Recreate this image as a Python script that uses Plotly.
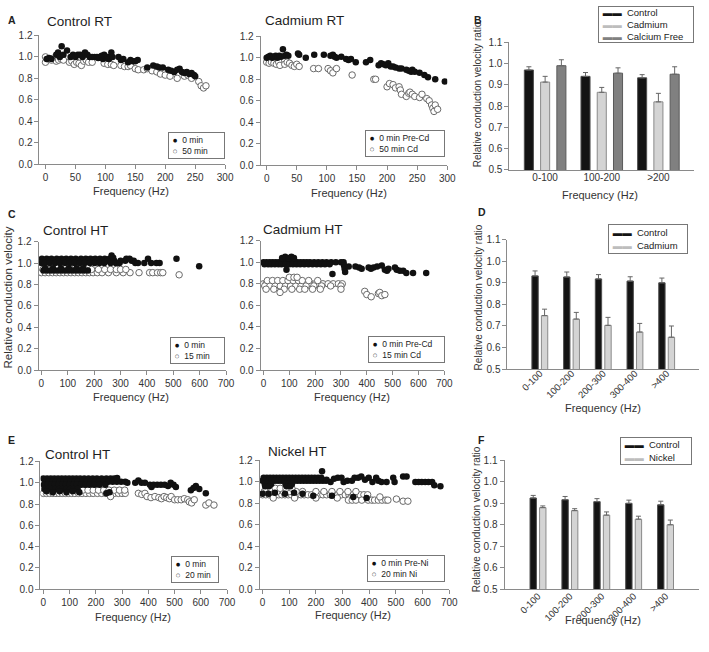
import plotly.graph_objects as go

FONT = 'Liberation Sans, Arial, sans-serif'
W, H = 709, 652

# ---------------- data ----------------
# A: Control RT
a_ctrl_pre_x = [2, 6, 10, 18, 21, 24, 27, 30, 36, 42, 46, 50, 54, 58, 62, 66, 70, 74, 78, 82, 86, 88, 90, 94, 96,
                98, 100, 102, 104, 106, 110, 112, 122, 126, 130, 138, 142, 146, 150, 154, 170, 180, 186, 190, 196,
                205, 210, 215, 220, 224, 228, 232, 236, 240, 244, 248, 250]
a_ctrl_pre_y = [0.98, 0.99, 0.98, 1.02, 1.04, 1.0, 1.1, 1.02, 1.06, 1.0, 1.02, 1.0, 1.02, 1.02, 1.0, 1.04, 1.02, 1.0,
                1.0, 1.0, 1.0, 0.99, 1.0, 1.01, 0.98, 1.02, 1.0, 0.99, 1.0, 0.98, 1.04, 1.0, 1.0, 0.97, 0.98, 0.95,
                0.97, 0.96, 0.96, 0.97, 0.9, 0.92, 0.91, 0.9, 0.9, 0.88, 0.87, 0.86, 0.88, 0.89, 0.86, 0.85, 0.86,
                0.84, 0.85, 0.83, 0.82]
a_ctrl_post_x = [0, 0, 5, 10, 14, 18, 22, 26, 30, 40, 44, 48, 52, 56, 60, 64, 68, 72, 78, 98, 104, 110, 114, 126, 132,
                 138, 142, 150, 155, 164, 170, 178, 186, 192, 200, 208, 220, 232, 238, 244, 256, 260, 264, 268]
a_ctrl_post_y = [1.0, 0.95, 0.98, 0.97, 0.99, 0.96, 0.97, 0.98, 0.97, 0.95, 0.96, 0.93, 0.95, 0.94, 0.92, 0.96, 0.97,
                 0.95, 0.95, 0.94, 0.93, 0.93, 0.92, 0.92, 0.91, 0.91, 0.92, 0.89, 0.88, 0.88, 0.89, 0.87, 0.86, 0.84,
                 0.83, 0.82, 0.80, 0.82, 0.83, 0.80, 0.77, 0.73, 0.71, 0.73]

# A: Cadmium RT
a_cd_pre_x = [0, 3, 6, 9, 12, 15, 18, 21, 24, 27, 30, 33, 36, 52, 54, 65, 79, 95, 106, 110, 113, 116, 124, 132, 136,
              140, 148, 165, 172, 186, 190, 194, 198, 202, 206, 210, 214, 220, 224, 232, 236, 240, 242, 246, 254,
              262, 268, 280, 296]
a_cd_pre_y = [1.0, 1.01, 1.02, 1.0, 1.01, 1.02, 1.0, 1.02, 1.01, 1.08, 1.02, 1.03, 1.02, 1.04, 1.03, 1.0, 1.03, 1.03,
              1.02, 1.03, 1.01, 1.0, 1.01, 0.99, 0.98, 0.99, 0.96, 0.96, 0.98, 0.93, 0.95, 0.94, 0.93, 0.95, 0.92,
              0.92, 0.91, 0.90, 0.90, 0.89, 0.88, 0.87, 0.89, 0.87, 0.86, 0.84, 0.82, 0.80, 0.78]
a_cd_post_x = [0, 4, 8, 12, 16, 20, 22, 30, 34, 38, 42, 46, 50, 54, 78, 86, 102, 106, 110, 116, 142, 178, 181, 200,
               204, 210, 214, 220, 222, 224, 232, 236, 238, 242, 246, 254, 258, 266, 270, 274, 276, 278, 280, 284]
a_cd_post_y = [0.96, 0.95, 0.96, 0.95, 0.94, 0.96, 0.93, 0.94, 0.96, 0.95, 0.93, 0.92, 0.94, 0.92, 0.9, 0.9, 0.9,
               0.88, 0.86, 0.9, 0.84, 0.8, 0.8, 0.73, 0.76, 0.75, 0.72, 0.73, 0.7, 0.66, 0.64, 0.67, 0.68, 0.66,
               0.64, 0.63, 0.66, 0.62, 0.6, 0.56, 0.53, 0.5, 0.56, 0.52]

# C: Control HT (15 min)
c_ctrl_pre_x = [2, 20, 38, 58, 76, 94, 112, 130, 150, 168, 186, 204, 222, 240, 258,
                10, 28, 48, 66, 84, 104, 122, 140, 158, 178, 196, 214, 232, 250, 276, 300, 318, 342, 350,
                0, 14, 32, 52, 70, 90, 108, 126, 146, 164, 184, 202, 220, 238, 262, 282, 296, 356, 366, 390, 416,
                436, 448,
                8, 22, 36, 50, 64, 78, 92, 106, 120, 134, 148, 162, 176, 14, 44, 74, 104, 134, 158,
                266, 272, 322, 334, 404, 512, 598]
c_ctrl_pre_y = [1.04, 1.04, 1.04, 1.04, 1.04, 1.04, 1.04, 1.04, 1.04, 1.04, 1.04, 1.04, 1.04, 1.04, 1.04,
                1.02, 1.02, 1.02, 1.02, 1.02, 1.02, 1.02, 1.02, 1.02, 1.02, 1.02, 1.02, 1.02, 1.02, 1.02, 1.02, 1.02,
                1.02, 1.02,
                1.0, 1.0, 1.0, 1.0, 1.0, 1.0, 1.0, 1.0, 1.0, 1.0, 1.0, 1.0, 1.0, 1.0, 1.0, 1.0, 1.0, 1.0, 1.0, 1.0,
                1.0, 1.0, 1.0,
                0.93, 0.93, 0.93, 0.93, 0.93, 0.93, 0.93, 0.93, 0.93, 0.93, 0.93, 0.93, 0.93, 0.95, 0.95, 0.95,
                0.95, 0.95, 0.95,
                1.07, 1.05, 1.04, 1.04, 1.04, 1.04, 0.97]
c_ctrl_post_x = [0, 14, 28, 42, 56, 70, 84, 98, 112, 126, 140, 154, 168, 182, 196, 212, 230, 254, 284, 310, 336, 370,
                 410, 422, 440, 452, 460,
                 6, 24, 46, 68, 92, 116, 140, 164, 190, 216, 240, 262, 284, 300, 320,
                 60, 90, 110, 130, 150, 522]
c_ctrl_post_y = [0.91, 0.91, 0.91, 0.91, 0.91, 0.91, 0.91, 0.91, 0.91, 0.91, 0.91, 0.91, 0.91, 0.91, 0.91, 0.91,
                 0.91, 0.91, 0.91, 0.91, 0.91, 0.91, 0.91, 0.91, 0.91, 0.91, 0.91,
                 0.94, 0.94, 0.94, 0.94, 0.94, 0.94, 0.94, 0.94, 0.94, 0.94, 0.94, 0.94, 0.94, 0.94, 0.94,
                 0.97, 0.97, 0.97, 0.97, 0.97, 0.89]

# C: Cadmium HT (15 min)
c_cd_pre_x = [0, 12, 24, 36, 48, 60, 72, 84, 96, 108, 120, 132, 144, 156, 168, 180, 196, 212, 228, 244, 262, 280, 300,
              4, 18, 30, 44, 58, 70, 86, 100, 114, 128, 142, 158, 174, 190, 206, 222, 238, 256,
              72, 84, 96, 108, 118,
              89, 267, 310, 312, 314, 316, 330, 356, 370, 380, 407, 416, 426, 440, 458, 470, 478, 484, 509, 516,
              528, 541, 553, 579, 630]
c_cd_pre_y = [1.0, 1.0, 1.0, 1.0, 1.0, 1.0, 1.0, 1.0, 1.0, 1.0, 1.0, 1.0, 1.0, 1.0, 1.0, 1.0, 1.0, 1.0, 1.0, 1.0, 1.0,
              1.0, 1.0,
              0.98, 0.98, 0.98, 0.98, 0.98, 0.98, 0.98, 0.98, 0.98, 0.98, 0.98, 0.98, 0.98, 0.98, 0.98, 0.98, 0.98,
              0.98,
              1.04, 1.05, 1.04, 1.05, 1.04,
              0.93, 0.89, 1.0, 0.97, 0.94, 0.91, 0.96, 0.96, 0.95, 0.94, 0.95, 0.94, 0.95, 0.96, 0.97, 0.93, 0.92,
              0.94, 0.95, 0.93, 0.92, 0.92, 0.9, 0.9, 0.9]
c_cd_post_x = [0, 10, 20, 30, 40, 50, 60, 70, 80, 90, 100, 110, 120, 130, 140, 150, 160, 170, 185, 200, 215, 230, 250,
               270, 290, 305,
               5, 25, 45, 65, 85, 105, 125, 145, 165, 195, 225, 260, 300,
               15, 35, 55, 75, 95, 115, 135, 150, 175, 210,
               100, 118, 130,
               10, 40, 80, 110, 140, 160, 190, 220, 300,
               64, 392, 400, 417, 445, 450, 458, 470]
c_cd_post_y = [0.8, 0.8, 0.8, 0.8, 0.8, 0.8, 0.8, 0.8, 0.8, 0.8, 0.8, 0.8, 0.8, 0.8, 0.8, 0.8, 0.8, 0.8, 0.8, 0.8,
               0.8, 0.8, 0.8, 0.8, 0.8, 0.8,
               0.78, 0.78, 0.78, 0.78, 0.78, 0.78, 0.78, 0.78, 0.78, 0.78, 0.78, 0.78, 0.78,
               0.83, 0.83, 0.83, 0.83, 0.83, 0.83, 0.83, 0.83, 0.83, 0.83,
               0.86, 0.86, 0.86,
               0.75, 0.75, 0.75, 0.75, 0.75, 0.75, 0.75, 0.75, 0.75,
               0.72, 0.73, 0.7, 0.68, 0.71, 0.72, 0.69, 0.7]

# E: Control HT (20 min)
e_ctrl_pre_x = [0, 14, 28, 42, 56, 70, 84, 98, 112, 126, 140, 156, 172, 188, 204, 222, 240, 256, 270,
                6, 20, 34, 48, 62, 76, 90, 104, 118, 132, 148, 164, 180, 196, 212, 230, 248, 264, 280, 296, 312,
                2, 16, 30, 44, 58, 72, 86, 100, 114, 128, 144, 160, 176, 194, 214, 236,
                4, 18, 32, 46, 60, 74, 88, 102, 116, 130,
                12, 36, 62, 88, 112, 137, 240, 252,
                281, 320, 350, 362, 374, 387, 406, 412, 420, 434, 448, 462, 475, 485, 496, 505, 562, 572, 581,
                594, 619]
e_ctrl_pre_y = [1.04, 1.04, 1.04, 1.04, 1.04, 1.04, 1.04, 1.04, 1.04, 1.04, 1.04, 1.04, 1.04, 1.04, 1.04, 1.04, 1.04,
                1.04, 1.04,
                1.01, 1.01, 1.01, 1.01, 1.01, 1.01, 1.01, 1.01, 1.01, 1.01, 1.01, 1.01, 1.01, 1.01, 1.01, 1.01, 1.01,
                1.01, 1.01, 1.01, 1.01,
                0.98, 0.98, 0.98, 0.98, 0.98, 0.98, 0.98, 0.98, 0.98, 0.98, 0.98, 0.98, 0.98, 0.98, 0.98, 0.98,
                0.94, 0.94, 0.94, 0.94, 0.94, 0.94, 0.94, 0.94, 0.94, 0.94,
                0.92, 0.91, 0.92, 0.91, 0.92, 0.91, 0.9, 0.91,
                1.045, 1.0, 1.0, 1.02, 1.0, 1.0, 0.98, 0.96, 0.98, 0.98, 0.98, 0.98, 0.97, 1.0, 0.98, 0.96, 0.93,
                0.95, 0.97, 0.94, 0.9]
e_ctrl_post_x = [0, 12, 24, 36, 48, 60, 72, 84, 96, 108, 120, 134, 148, 162, 176, 190, 206, 222, 238, 254, 270, 286,
                 300, 312,
                 90, 110, 130, 150, 170, 190, 210, 230, 250, 270, 290, 310,
                 256, 362, 375, 387, 395, 410, 425, 440, 450, 460, 470, 480, 487, 500, 512, 525, 537, 550, 556, 565,
                 575, 619, 631, 650]
e_ctrl_post_y = [0.9, 0.9, 0.9, 0.9, 0.9, 0.9, 0.9, 0.9, 0.9, 0.9, 0.9, 0.9, 0.9, 0.9, 0.9, 0.9, 0.9, 0.9, 0.9, 0.9,
                 0.9, 0.9, 0.9, 0.9,
                 0.93, 0.93, 0.93, 0.93, 0.93, 0.93, 0.93, 0.93, 0.93, 0.93, 0.93, 0.93,
                 0.87, 0.9, 0.89, 0.9, 0.87, 0.86, 0.87, 0.86, 0.85, 0.87, 0.86, 0.85, 0.87, 0.84, 0.84, 0.84, 0.85,
                 0.84, 0.82, 0.81, 0.84, 0.79, 0.81, 0.79]

# E: Nickel HT (20 min)
e_ni_pre_x = [4, 16, 28, 40, 52, 64, 76, 88, 100, 112, 124, 136, 148, 160, 172, 184, 196, 208, 220,
              0, 10, 22, 34, 46, 58, 70, 82, 94, 106, 118, 130, 142, 154, 166, 178, 190, 202, 214, 226, 238,
              8, 20, 32, 86, 98, 110, 10, 24, 90, 104,
              0, 22, 46, 84, 118, 150,
              190, 260, 340, 390,
              223, 240, 255, 268, 282, 296, 304, 318, 335, 345, 358, 370, 384, 398, 412, 426, 434, 446, 465, 490,
              495, 527, 540, 573, 585, 597, 610, 622, 636, 644, 667]
e_ni_pre_y = [1.04, 1.04, 1.04, 1.04, 1.04, 1.04, 1.04, 1.04, 1.04, 1.04, 1.04, 1.04, 1.04, 1.04, 1.04, 1.04, 1.04,
              1.04, 1.04,
              1.01, 1.01, 1.01, 1.01, 1.01, 1.01, 1.01, 1.01, 1.01, 1.01, 1.01, 1.01, 1.01, 1.01, 1.01, 1.01, 1.01,
              1.01, 1.01, 1.01, 1.01,
              0.98, 0.98, 0.98, 0.98, 0.98, 0.98, 0.96, 0.96, 0.96, 0.96,
              0.89, 0.89, 0.9, 0.89, 0.9, 0.89,
              0.87, 0.87, 0.86, 0.85,
              1.1, 1.02, 1.0, 1.03, 1.04, 1.04, 1.0, 1.01, 1.01, 1.04, 1.04, 1.05, 1.02, 1.04, 1.0, 1.04, 1.01,
              1.0, 1.0, 1.04, 1.0, 1.05, 1.05, 1.0, 1.0, 1.0, 1.0, 1.0, 1.0, 0.97, 0.96]
e_ni_post_x = [0, 12, 24, 36, 48, 60, 72, 84, 96, 108, 120, 132, 144, 156, 170, 184, 198, 212, 226, 240, 254, 268,
               282, 296, 310, 324, 338, 352, 366, 380, 394,
               6, 30, 54, 78, 102, 126, 150, 200, 230, 260, 290, 320, 350,
               12, 30, 48, 66, 88, 110,
               40, 120, 200, 280, 330,
               322, 336, 350, 372, 396, 410, 420, 434, 448, 462, 470,
               440, 502, 527, 545]
e_ni_post_y = [0.88, 0.88, 0.88, 0.88, 0.88, 0.88, 0.88, 0.88, 0.88, 0.88, 0.88, 0.88, 0.88, 0.88, 0.88, 0.88, 0.88,
               0.88, 0.88, 0.88, 0.88, 0.88, 0.88, 0.88, 0.88, 0.88, 0.88, 0.88, 0.88, 0.88, 0.88,
               0.91, 0.91, 0.91, 0.91, 0.91, 0.91, 0.91, 0.91, 0.91, 0.91, 0.91, 0.91, 0.91,
               0.94, 0.94, 0.94, 0.94, 0.94, 0.94,
               0.85, 0.85, 0.85, 0.85, 0.85,
               0.83, 0.83, 0.83, 0.83, 0.83, 0.83, 0.83, 0.83, 0.83, 0.83, 0.83,
               0.86, 0.84, 0.82, 0.82]

# B: bar summary, RT
b_cats = ['0-100', '100-200', '>200']
b_control = [0.97, 0.94, 0.933]
b_control_err = [0.015, 0.018, 0.015]
b_cadmium = [0.913, 0.865, 0.82]
b_cadmium_err = [0.027, 0.023, 0.04]
b_cafree = [0.99, 0.955, 0.95]
b_cafree_err = [0.028, 0.025, 0.035]

# D: bar summary, HT cadmium
d_cats = ['0-100', '100-200', '200-300', '300-400', '>400']
d_control = [0.932, 0.927, 0.918, 0.908, 0.9]
d_control_err = [0.023, 0.023, 0.02, 0.02, 0.022]
d_cadmium = [0.748, 0.732, 0.703, 0.672, 0.648]
d_cadmium_err = [0.03, 0.031, 0.037, 0.04, 0.052]

# F: bar summary, HT nickel
f_cats = ['0-100', '100-200', '200-300', '300-400', '>400']
f_control = [0.925, 0.917, 0.908, 0.9, 0.893]
f_control_err = [0.012, 0.015, 0.014, 0.015, 0.017]
f_nickel = [0.88, 0.866, 0.845, 0.826, 0.8]
f_nickel_err = [0.008, 0.009, 0.015, 0.014, 0.022]


# ---------------- helpers ----------------
def px(x):
    return x / W


def py(y):
    return 1 - y / H


axis_style = dict(showline=True, linecolor='#8a8a8a', linewidth=1, ticks='outside', ticklen=4, tickcolor='#8a8a8a',
                  showgrid=False, zeroline=False, tickfont=dict(family=FONT, size=10, color='#333'))

fig = go.Figure()
layout = {}
annotations = []
NB = '\u00a0'


def add_axes(n, box, xr, yr, **xextra):
    # box = (left, top, right, bottom) in pixels
    left, top, right, bottom = box
    sx = '' if n == 1 else str(n)
    layout['xaxis' + sx] = dict(axis_style, domain=[px(left), px(right)], range=xr, anchor='y' + sx, **xextra)
    layout['yaxis' + sx] = dict(axis_style, domain=[py(bottom), py(top)], range=yr, anchor='x' + sx)
    return 'x' + sx, 'y' + sx


def text(x, y, s, size=11, bold=False, angle=0, anchor='center', color='#222'):
    annotations.append(dict(x=px(x), y=py(y), xref='paper', yref='paper', text='<b>' + s + '</b>' if bold else s,
                            showarrow=False, textangle=angle, xanchor=anchor, yanchor='middle',
                            font=dict(family=FONT, size=size, color=color)))


# legend drawn as a bordered text box: (symbol html, label) rows
def legend_box(box, rows, size):
    left, top, right, bottom = box
    lines = [NB + sym + NB + NB + label for sym, label in rows]
    annotations.append(dict(x=px(left), y=py(top), xref='paper', yref='paper', xanchor='left', yanchor='top',
                            text='<br>'.join(lines), align='left', valign='middle', showarrow=False,
                            width=right - left - 4, height=bottom - top - 4, borderpad=1, borderwidth=1,
                            bordercolor='#777', bgcolor='white', font=dict(family=FONT, size=size, color='#222')))


FILLED = '<span style="color:#111">●</span>'
OPEN = '<span style="color:#555">○</span>'


def scatter_panel(n, box, xmax, dtick, pre, post, names, legbox):
    xa, ya = add_axes(n, box, [-11 if xmax > 300 else -10, xmax], [0, 1.2], dtick=dtick)
    layout['yaxis' + ('' if n == 1 else str(n))].update(dtick=0.2, tickformat='.1f')
    # open circles first so the filled ones stay visible where they overlap
    fig.add_trace(go.Scatter(x=post[0], y=post[1], mode='markers', name=names[1], xaxis=xa, yaxis=ya,
                             marker=dict(size=6.5, color='white', line=dict(width=1, color='#6a6a6a'))))
    fig.add_trace(go.Scatter(x=pre[0], y=pre[1], mode='markers', name=names[0], xaxis=xa, yaxis=ya,
                             marker=dict(size=6.5, color='#111', line=dict(width=0))))
    legend_box(legbox, [(FILLED, names[0]), (OPEN, names[1])], 8.5)


bar_styles = {
    'Control': ('#141414', '#505050'),
    'Cadmium': ('#d4d4d4', '#8a8a8a'),
    'Nickel': ('#d4d4d4', '#8a8a8a'),
    'Calcium Free': ('#808080', '#5a5a5a'),
}


def bar_panel(n, box, cats, xr, series, width, offsets, legbox, angle=0, standoff=0):
    xa, ya = add_axes(n, box, xr, [0.5, 1.1], type='category', tickangle=angle)
    sx = '' if n == 1 else str(n)
    layout['xaxis' + sx].update(ticks='', ticklabelstandoff=standoff,
                                tickfont=dict(family=FONT, size=10 if angle == 0 else 9.5, color='#333'))
    layout['yaxis' + sx].update(dtick=0.1, tickformat='.1f')
    rows = []
    for (name, vals, errs), off in zip(series, offsets):
        fill, edge = bar_styles[name]
        fig.add_trace(go.Bar(x=cats, y=vals, name=name, xaxis=xa, yaxis=ya, width=width, offset=off,
                             marker=dict(color=fill, line=dict(color=edge, width=1)),
                             error_y=dict(type='data', symmetric=False, array=errs, arrayminus=[0] * len(errs),
                                          color='#666', thickness=1, width=2.5)))
        swatch = '#bdbdbd' if fill == '#d4d4d4' else fill
        rows.append(('<span style="color:%s">▬▬</span>' % swatch, name))
    legend_box(legbox, rows, 9.5)


# ---------------- panels ----------------
scatter_panel(1, (40, 30, 228, 161), 300, 50, (a_ctrl_pre_x, a_ctrl_pre_y), (a_ctrl_post_x, a_ctrl_post_y),
              ['0 min', '50 min'], (170, 128, 227, 155))
scatter_panel(2, (264, 31, 453, 162), 300, 50, (a_cd_pre_x, a_cd_pre_y), (a_cd_post_x, a_cd_post_y),
              ['0 min Pre-Cd', '50 min Cd'], (370, 126, 450, 153))
bar_panel(3, (516, 37, 703, 167), b_cats, [-0.63, 2.63],
          [('Control', b_control, b_control_err), ('Cadmium', b_cadmium, b_cadmium_err),
           ('Calcium Free', b_cafree, b_cafree_err)], 0.16, [-0.367, -0.08, 0.207], (606, 0, 702, 37),
          standoff=-2)

scatter_panel(4, (39, 240, 229, 371), 700, 100, (c_ctrl_pre_x, c_ctrl_pre_y), (c_ctrl_post_x, c_ctrl_post_y),
              ['0 min', '15 min'], (172, 337, 227, 364))
scatter_panel(5, (264, 239, 450, 371), 700, 100, (c_cd_pre_x, c_cd_pre_y), (c_cd_post_x, c_cd_post_y),
              ['0 min Pre-Cd', '15 min Cd'], (373, 336, 450, 363))
bar_panel(6, (514, 238, 708, 370), d_cats, [-1.02, 5.02],
          [('Control', d_control, d_control_err), ('Cadmium', d_cadmium, d_cadmium_err)],
          0.2, [-0.25, 0.05], (616, 222, 696, 252), angle=-45, standoff=-6)

scatter_panel(7, (41, 464, 230, 594), 700, 100, (e_ctrl_pre_x, e_ctrl_pre_y), (e_ctrl_post_x, e_ctrl_post_y),
              ['0 min', '20 min'], (173, 560, 221, 587))
scatter_panel(8, (263, 463, 455, 594), 700, 100, (e_ni_pre_x, e_ni_pre_y), (e_ni_post_x, e_ni_post_y),
              ['0 min Pre-Ni', '20 min Ni'], (372, 559, 450, 586))
bar_panel(9, (511, 463, 708, 594), f_cats, [-1.05, 5.05],
          [('Control', f_control, f_control_err), ('Nickel', f_nickel, f_nickel_err)],
          0.2, [-0.25, 0.05], (628, 439, 700, 467), angle=-45, standoff=-3)

# ---------------- labels ----------------
for letter, x, y in [('A', 12, 14), ('B', 484, 14), ('C', 12, 212), ('D', 488, 210), ('E', 12, 442), ('F', 488, 442)]:
    text(x, y, letter, size=10.5, bold=True)

for title, x, y in [('Control RT', 46, 16), ('Cadmium RT', 266, 15), ('Control HT', 42, 229),
                    ('Cadmium HT', 264, 228), ('Control HT', 44, 457), ('Nickel HT', 269, 454)]:
    text(x, y, title, size=13.5, anchor='left', color='#1e1e1e')

for x, y in [(133, 188), (353, 190), (608, 193), (133, 398), (357, 398), (611, 410), (135, 622), (358, 620),
             (611, 626)]:
    text(x, y, 'Frequency (Hz)', size=11, color='#333')

text(8, 297, 'Relative conduction velocity', size=11.5, angle=-90, color='#333')
for x, y in [(483, 90), (485, 297), (483, 523)]:
    text(x, y, 'Relative conduction velocity ratio', size=10, angle=-90, color='#333')

fig.update_layout(width=W, height=H, margin=dict(l=0, r=0, t=0, b=0), plot_bgcolor='white', paper_bgcolor='white',
                  barmode='overlay', showlegend=False, annotations=annotations, **layout)
# the page body has a default 8px margin; drop it so the figure fills the window
fig.write_html("out.html", config={'displayModeBar': False},
               post_script="document.body.style.margin='0px';")
